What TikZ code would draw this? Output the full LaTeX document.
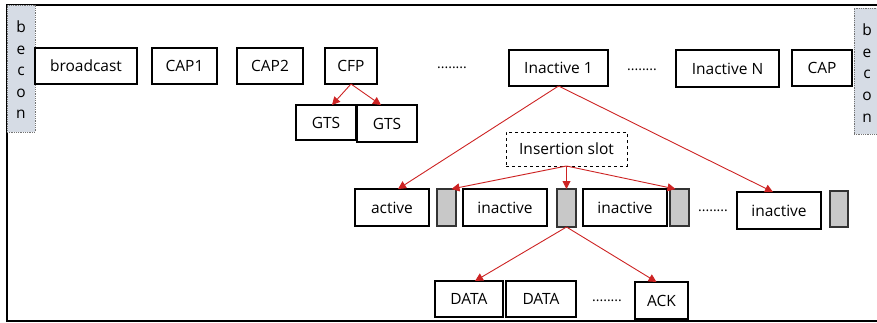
\documentclass[tikz,border=0pt]{standalone}
\usepackage{fontspec}
\setmainfont{Open Sans}
\usetikzlibrary{arrows.meta,calc}

\definecolor{linkred}{RGB}{205,35,35}
\definecolor{beaconfill}{RGB}{214,220,229}
\definecolor{slotfill}{RGB}{200,200,200}

\tikzset{
  base/.style={inner sep=0pt, outer sep=0pt, font=\fontsize{15.5}{18}\selectfont},
  frame/.style={base, draw=black, line width=1.2pt, fill=white},
  slot/.style={base, draw=black!80, line width=1.2pt, fill=slotfill},
  beacon/.style={base, draw=black!55, densely dotted, line width=0.8pt, fill=beaconfill},
  insbox/.style={base, draw=black, dashed, line width=0.9pt, fill=white},
  dots/.style={base, font=\fontsize{14}{17}\selectfont},
  link/.style={draw=linkred, line width=0.9pt, -{Triangle[length=8pt,width=8pt]}},
}

% box from (x1,y1) to (x2,y2) in pixel-like units, y pointing down
\newcommand{\bx}[7]{%
  \node[#1, minimum width={(#5-#3)*1pt}, minimum height={(#6-#4)*1pt}]
    (#2) at ({(#3+#5)/2},{(#4+#6)/2}) {#7};}

\begin{document}
\begin{tikzpicture}[x=1pt,y=-1pt]
  \useasboundingbox (0,0) rectangle (877,322);
  \clip (0,0) rectangle (877,322);

  % outer frame
  \draw[line width=1.6pt] (7,5) rectangle (900,321);

  % beacons at both ends
  \bx{beacon}{bl}{7}{5}{35}{132}{}
  \bx{beacon}{br}{854}{8}{884}{134}{}
  \node[base, align=center, font=\fontsize{15.5}{21.5}\selectfont] (blt) at (21,70) {b\\e\\c\\o\\n};
  \node[base, align=center, font=\fontsize{15.5}{21.8}\selectfont] (brt) at (867,73) {b\\e\\c\\o\\n};

  % superframe slots
  \bx{frame}{bc}{35}{48}{137}{84}{broadcast}
  \bx{frame}{cap1}{152}{48}{217}{84}{CAP1}
  \bx{frame}{cap2}{237}{48}{303}{84}{CAP2}
  \bx{frame}{cfp}{325}{48}{377}{84}{CFP}
  \node[dots] (d1) at (452,68) {........};
  \bx{frame}{in1}{509}{50}{608}{86}{Inactive 1}
  \node[dots] (d2) at (642,70) {........};
  \bx{frame}{inN}{676}{50}{779}{87}{Inactive N}
  \bx{frame}{cap}{792}{50}{852}{86}{CAP}

  % guaranteed time slots
  \bx{frame}{gts1}{296}{105}{356}{140}{GTS}
  \bx{frame}{gts2}{357}{105}{417}{142}{GTS}

  % insertion slot and the inactive period split
  \bx{insbox}{ins}{506}{132}{627}{166}{Insertion slot}
  \bx{frame}{act}{355}{189}{429}{226}{active}
  \bx{slot}{g1}{437}{189}{456}{226}{}
  \bx{frame}{ia1}{463}{189}{547}{226}{inactive}
  \bx{slot}{g2}{557}{189}{576}{227}{}
  \bx{frame}{ia2}{583}{189}{667}{226}{inactive}
  \bx{slot}{g3}{670}{189}{689}{226}{}
  \node[dots] (d3) at (713,211) {........};
  \bx{frame}{ia3}{737}{192}{821}{229}{inactive}
  \bx{slot}{g4}{830}{191}{848}{227}{}

  % data exchange inside an insertion slot
  \bx{frame}{data1}{435}{281}{503}{317}{DATA}
  \bx{frame}{data2}{506}{281}{576}{317}{DATA}
  \node[dots] (d4) at (607,301) {........};
  \bx{frame}{ack}{635}{282}{688}{319}{ACK}

  % connectors
  \draw[link] (cfp.south) -- ([xshift=6pt]gts1.north);
  \draw[link] (cfp.south) -- ([xshift=-6pt]gts2.north);
  \draw[link] (in1.south) -- ([xshift=6pt]act.north);
  \draw[link] (in1.south) -- ([xshift=-6pt]ia3.north);
  \draw[link] (ins.south) -- ([xshift=5pt]g1.north);
  \draw[link] (ins.south) -- (g2.north);
  \draw[link] (ins.south) -- ([xshift=-4pt]g3.north);
  \draw[link] (g2.south) -- ([xshift=6pt]data1.north);
  \draw[link] (g2.south) -- ([xshift=-5pt]ack.north);
\end{tikzpicture}
\end{document}
